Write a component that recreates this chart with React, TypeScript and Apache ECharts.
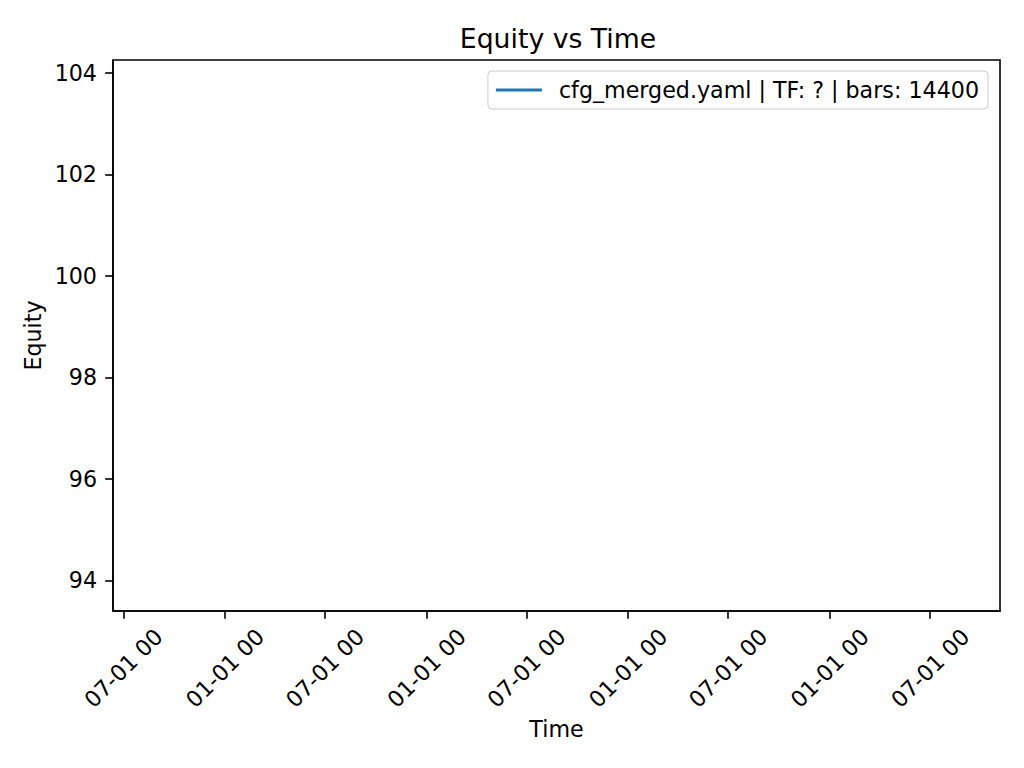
import React, { useEffect, useRef } from "react";
import * as echarts from "echarts";

// Series (nothing is drawn in the reference plot area: values are not plotted)
const seriesName = "cfg_merged.yaml | TF: ? | bars: 14400";
const equityTimes: number[] = [];
const equityValues: number[] = [];

// Tick values
const xTickDates: number[] = [
  Date.UTC(2020, 6, 1),
  Date.UTC(2021, 0, 1),
  Date.UTC(2021, 6, 1),
  Date.UTC(2022, 0, 1),
  Date.UTC(2022, 6, 1),
  Date.UTC(2023, 0, 1),
  Date.UTC(2023, 6, 1),
  Date.UTC(2024, 0, 1),
  Date.UTC(2024, 6, 1),
];
const yTicks: number[] = [94, 96, 98, 100, 102, 104];

const DAY = 86400000;
const xMin = Date.UTC(2020, 6, 1) - 18.6 * DAY;
const xMax = Date.UTC(2024, 6, 1) + 126.7 * DAY;
const yMin = 93.395;
const yMax = 104.256;

const pad = (n: number) => (n < 10 ? "0" + n : String(n));
const fmtDate = (v: number) => {
  const d = new Date(v);
  return `${pad(d.getUTCMonth() + 1)}-${pad(d.getUTCDate())} ${pad(d.getUTCHours())}`;
};

const FONT = "DejaVu Sans";

export default function App() {
  const ref = useRef<HTMLDivElement>(null);
  useEffect(() => {
    if (!ref.current) return;
    const chart = echarts.init(ref.current, undefined, { renderer: "svg" });
    const data = equityTimes.map((t, i) => [t, equityValues[i]]);
    chart.setOption({
      animation: false,
      backgroundColor: "#ffffff",
      textStyle: { fontFamily: FONT },
      title: {
        text: "Equity vs Time",
        left: 553,
        top: 20,
        textAlign: "center",
        textStyle: { fontFamily: FONT, fontSize: 26.7, fontWeight: "normal", color: "#000" },
      },
      legend: {
        right: 36,
        top: 71,
        orient: "vertical",
        padding: [8, 9, 8, 8],
        borderColor: "#cccccc",
        borderWidth: 1,
        borderRadius: 4,
        backgroundColor: "rgba(255,255,255,0.8)",
        itemWidth: 46,
        itemHeight: 3,
        icon: "rect",
        textStyle: { fontFamily: FONT, fontSize: 22.2, color: "#000", lineHeight: 22, padding: [0, 0, 0, 12] },
        data: [{ name: seriesName, itemStyle: { color: "#1f77b4" } }],
      },
      grid: {
        left: 113,
        right: 24,
        top: 60,
        bottom: 157,
        show: true,
        borderColor: "#000",
        borderWidth: 1.6,
        backgroundColor: "transparent",
        containLabel: false,
      },
      xAxis: {
        type: "value",
        min: xMin,
        max: xMax,
        scale: true,
        name: "Time",
        nameLocation: "middle",
        nameGap: 107,
        nameTextStyle: { fontFamily: FONT, fontSize: 22.2, color: "#000" },
        axisLine: { show: true, onZero: false, lineStyle: { color: "#000", width: 1.6 } },
        axisTick: { show: true, length: 7.8, lineStyle: { color: "#000", width: 1.6 }, customValues: xTickDates },
        axisLabel: {
          customValues: xTickDates,
          formatter: (v: number) => fmtDate(v),
          rotate: 45,
          align: "center",
          verticalAlign: "middle",
          margin: 57,
          fontFamily: FONT,
          fontSize: 22.2,
          color: "#000",
          hideOverlap: false,
        },
        splitLine: { show: false },
      },
      yAxis: {
        type: "value",
        min: yMin,
        max: yMax,
        scale: true,
        name: "Equity",
        nameLocation: "middle",
        nameGap: 64,
        nameTextStyle: { fontFamily: FONT, fontSize: 22.2, color: "#000" },
        axisLine: { show: true, onZero: false, lineStyle: { color: "#000", width: 1.6 } },
        axisTick: { show: true, length: 7.8, lineStyle: { color: "#000", width: 1.6 }, customValues: yTicks },
        axisLabel: {
          customValues: yTicks,
          formatter: (v: number) => String(Math.round(v)),
          margin: 16,
          fontFamily: FONT,
          fontSize: 22.2,
          color: "#000",
        },
        splitLine: { show: false },
      },
      series: [
        {
          name: seriesName,
          type: "line",
          data,
          showSymbol: false,
          symbol: "none",
          lineStyle: { color: "#1f77b4", width: 3.3 },
          itemStyle: { color: "#1f77b4" },
        },
      ],
    });
    return () => chart.dispose();
  }, []);
  return (
    <div
      ref={ref}
      style={{ position: "absolute", left: 0, top: 0, width: 1024, height: 768 }}
    />
  );
}
